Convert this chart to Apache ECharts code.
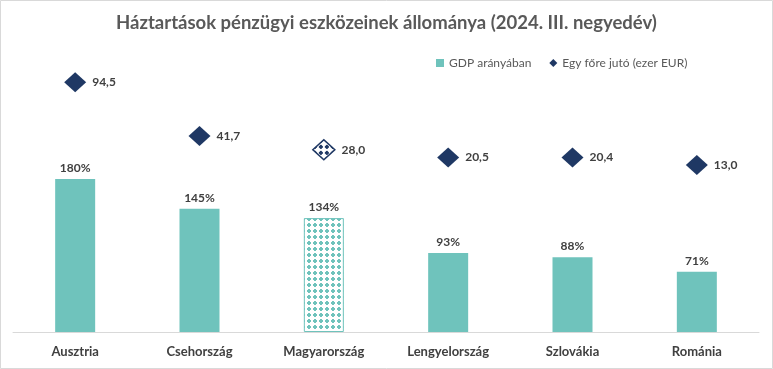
<!DOCTYPE html>
<html>
<head>
<meta charset="utf-8">
<script src="https://cdn.jsdelivr.net/npm/echarts@6/dist/echarts.min.js"></script>
<style>
html,body{margin:0;padding:0;background:#fff;}
#chart{width:773px;height:369px;}
</style>
</head>
<body>
<div id="chart"></div>
<script>
const categories = ['Ausztria', 'Csehország', 'Magyarország', 'Lengyelország', 'Szlovákia', 'Románia'];
const gdpShare = [180, 145, 134, 93, 88, 71];
const perCapita = [94.5, 41.7, 28.0, 20.5, 20.4, 13.0];
const highlightIndex = 2;
const titleText = 'Háztartások pénzügyi eszközeinek állománya (2024. III. negyedév)';
const seriesNames = ['GDP arányában', 'Egy főre jutó (ezer EUR)'];

const TEAL = '#6FC3BC';
const NAVY = '#1F3864';
const FONT = 'Lato, "Open Sans", sans-serif';
const DIA_W = 22, DIA_H = 20;

function makeTile(size, color) {
  const c = document.createElement('canvas');
  c.width = size; c.height = size;
  const ctx = c.getContext('2d');
  ctx.fillStyle = '#ffffff';
  ctx.fillRect(0, 0, size, size);
  ctx.fillStyle = color;
  ctx.fillRect(2, 1, 2, 4);
  ctx.fillRect(1, 2, 4, 2);
  return c;
}
const barTile = makeTile(6, TEAL);
const diaTile = makeTile(6, NAVY);

const barData = gdpShare.map((v, i) => i === highlightIndex ? {
  value: v,
  itemStyle: {color: {image: barTile, repeat: 'repeat'}, borderColor: TEAL, borderWidth: 1}
} : v);
const scatterData = perCapita.map((v, i) => i === highlightIndex ? {
  value: v,
  itemStyle: {
    color: {image: diaTile, repeat: 'repeat', scaleX: 2 / DIA_W, scaleY: 2 / DIA_H},
    borderColor: NAVY, borderWidth: 1.5
  }
} : v);

const chart = echarts.init(document.getElementById('chart'), null, {renderer: 'canvas'});
chart.setOption({
  animation: false,
  backgroundColor: '#ffffff',
  textStyle: {fontFamily: FONT},
  title: {
    text: titleText,
    left: 'center',
    top: 9,
    textStyle: {fontFamily: FONT, fontSize: 18.5, fontWeight: 'bold', color: '#595959'}
  },
  legend: {
    left: 431,
    top: 52,
    itemWidth: 8,
    itemHeight: 8,
    itemGap: 18,
    textStyle: {fontFamily: FONT, fontSize: 12, color: '#595959'},
    data: [
      {name: seriesNames[0], icon: 'rect', itemStyle: {color: TEAL}},
      {name: seriesNames[1], icon: 'diamond', itemStyle: {color: NAVY}}
    ]
  },
  grid: {left: 13, right: 14, top: 60, bottom: 37},
  xAxis: {
    type: 'category',
    data: categories,
    axisLine: {show: true, lineStyle: {color: '#D9D9D9', width: 1}},
    axisTick: {show: false},
    axisLabel: {fontFamily: FONT, fontSize: 13, fontWeight: 'bold', color: '#404040', margin: 13}
  },
  yAxis: [
    {type: 'value', min: 0, max: 320, show: false, splitLine: {show: false}},
    {type: 'value', min: -151.5, max: 116.5, show: false, splitLine: {show: false}}
  ],
  series: [
    {
      name: seriesNames[0],
      type: 'bar',
      barWidth: 40,
      itemStyle: {color: TEAL},
      data: barData,
      label: {
        show: true, position: 'top', distance: 5,
        fontFamily: FONT, fontSize: 12, fontWeight: 'bold', color: '#404040',
        formatter: p => p.value + '%'
      }
    },
    {
      name: seriesNames[1],
      type: 'scatter',
      yAxisIndex: 1,
      symbol: 'diamond',
      symbolSize: [DIA_W, DIA_H],
      itemStyle: {color: NAVY, opacity: 1},
      data: scatterData,
      label: {
        show: true, position: 'right', distance: 6,
        fontFamily: FONT, fontSize: 12, fontWeight: 'bold', color: '#404040',
        formatter: p => p.value.toFixed(1).replace('.', ',')
      }
    }
  ],
  graphic: [{
    type: 'rect',
    shape: {x: 0.5, y: 0.5, width: 772, height: 368},
    style: {fill: 'none', stroke: '#D9D9D9', lineWidth: 1},
    silent: true
  }]
});
</script>
</body>
</html>
